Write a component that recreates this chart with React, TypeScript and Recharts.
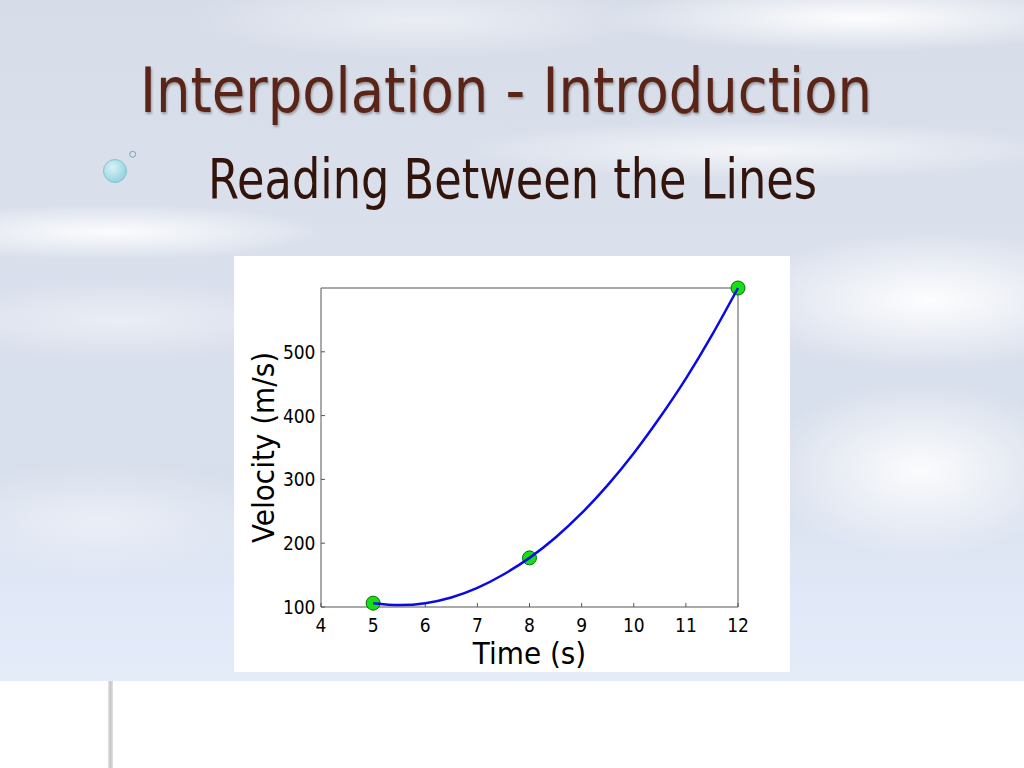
import React from "react";
import {
  ComposedChart,
  Line,
  Scatter,
  XAxis,
  YAxis,
  Label,
} from "recharts";

// readings taken off the slide
const curveTimes = [5, 5.5, 6, 6.5, 7, 7.5, 8, 8.5, 9, 9.5, 10, 10.5, 11, 11.5, 12];
const curveVelocity = [106, 103, 106, 115, 130, 151, 177, 209, 247, 291, 341, 397, 458, 526, 600];

const pointTimes = [5, 8, 12];
const pointVelocity = [106, 177, 600];

const xTicks = [4, 5, 6, 7, 8, 9, 10, 11, 12];
const yTicks = [100, 200, 300, 400, 500];

const curveData = curveTimes.map((t, i) => ({ t, v: curveVelocity[i] }));
const pointData = pointTimes.map((t, i) => ({ t, v: pointVelocity[i] }));

const FONT = "DejaVu Sans";
const AXIS = "#555";

function XTick({ x, y, payload }: any) {
  return (
    <text
      transform={`translate(${x},${y + 25}) scale(0.9,1)`}
      textAnchor="middle"
      fontSize={19}
      fontFamily={FONT}
      fill="#000"
    >
      {payload.value}
    </text>
  );
}

function YTick({ x, y, payload }: any) {
  return (
    <text
      transform={`translate(${x - 5.5},${y + 7}) scale(0.9,1)`}
      textAnchor="end"
      fontSize={19}
      fontFamily={FONT}
      fill="#000"
    >
      {payload.value}
    </text>
  );
}

function TimeLabel({ viewBox }: any) {
  const cx = viewBox.x + viewBox.width / 2;
  return (
    <text
      transform={`translate(${cx},${viewBox.y + 56.5}) scale(0.9,1)`}
      textAnchor="middle"
      fontSize={31}
      fontFamily={FONT}
      fill="#000"
    >
      Time (s)
    </text>
  );
}

function VelocityLabel({ viewBox }: any) {
  const cy = viewBox.y + viewBox.height / 2;
  return (
    <text
      transform={`translate(${viewBox.x + 40},${cy}) rotate(-90) scale(0.9,1)`}
      textAnchor="middle"
      fontSize={31}
      fontFamily={FONT}
      fill="#000"
    >
      Velocity (m/s)
    </text>
  );
}

function Dot({ cx, cy }: any) {
  return <circle cx={cx} cy={cy} r={7} fill="#14e014" stroke="#0a6a0a" strokeWidth={1} />;
}

const sky = [
  "radial-gradient(ellipse 260px 34px at 860px 18px, rgba(255,255,255,0.95), rgba(255,255,255,0))",
  "radial-gradient(ellipse 320px 30px at 760px 150px, rgba(255,255,255,0.7), rgba(255,255,255,0))",
  "radial-gradient(ellipse 200px 70px at 930px 300px, rgba(255,255,255,0.95), rgba(255,255,255,0))",
  "radial-gradient(ellipse 160px 90px at 920px 470px, rgba(255,255,255,0.9), rgba(255,255,255,0))",
  "radial-gradient(ellipse 220px 28px at 110px 232px, rgba(255,255,255,0.9), rgba(255,255,255,0))",
  "radial-gradient(ellipse 240px 40px at 420px 20px, rgba(255,255,255,0.5), rgba(255,255,255,0))",
  "radial-gradient(ellipse 200px 40px at 120px 320px, rgba(255,255,255,0.45), rgba(255,255,255,0))",
  "radial-gradient(ellipse 180px 60px at 100px 520px, rgba(255,255,255,0.4), rgba(255,255,255,0))",
  "linear-gradient(180deg, #d6dce8 0%, #dae0ec 35%, #d8dfec 70%, #e1e8f7 88%, #e4ebf9 100%)",
].join(",");

export default function App() {
  return (
    <div
      style={{
        position: "absolute",
        left: 0,
        top: 0,
        width: 1024,
        height: 768,
        overflow: "hidden",
        background: "#fff",
      }}
    >
      <div style={{ position: "absolute", left: 0, top: 0, width: 1024, height: 681, background: sky }} />
      <div
        style={{
          position: "absolute",
          left: 108,
          top: 681,
          width: 5,
          height: 87,
          background: "linear-gradient(90deg, #e4e4e4, #c6c6c6 50%, #e4e4e4)",
        }}
      />
      <svg width={1024} height={260} style={{ position: "absolute", left: 0, top: 0 }}>
        <defs>
          <radialGradient id="bub" cx="40%" cy="35%" r="70%">
            <stop offset="0%" stopColor="#d8f2f6" />
            <stop offset="100%" stopColor="#8fd0de" />
          </radialGradient>
        </defs>
        <circle cx={115} cy={171} r={11.5} fill="url(#bub)" stroke="#86c3d0" strokeWidth={1} />
        <circle cx={132.7} cy={154.3} r={3} fill="none" stroke="#6fa8b4" strokeWidth={1} />
        <text
          x={140}
          y={111.7}
          fontSize={62}
          fontFamily={FONT}
          fill="#5a2417"
          textLength={732}
          lengthAdjust="spacingAndGlyphs"
          style={{ filter: "drop-shadow(1px 2px 1px rgba(0,0,0,0.3))" }}
        >
          Interpolation - Introduction
        </text>
        <text
          x={208}
          y={198.3}
          fontSize={55}
          fontFamily={FONT}
          fill="#33140b"
          textLength={609}
          lengthAdjust="spacingAndGlyphs"
        >
          Reading Between the Lines
        </text>
      </svg>
      <div style={{ position: "absolute", left: 234, top: 256, width: 556, height: 416, background: "#fff" }}>
        <ComposedChart width={556} height={416} margin={{ top: 0, right: 0, bottom: 0, left: 0 }}>
          <XAxis
            xAxisId="bottom"
            type="number"
            dataKey="t"
            domain={[4, 12]}
            ticks={xTicks}
            height={65}
            tickSize={-4}
            tickMargin={4}
            stroke={AXIS}
            tick={<XTick />}
          >
            <Label content={<TimeLabel />} />
          </XAxis>
          <XAxis
            xAxisId="top"
            orientation="top"
            type="number"
            dataKey="t"
            domain={[4, 12]}
            ticks={xTicks}
            height={32}
            tickSize={-4}
            stroke={AXIS}
            tick={false}
          />
          <YAxis
            yAxisId="left"
            type="number"
            dataKey="v"
            domain={[100, 600]}
            ticks={yTicks}
            width={87}
            tickSize={-4}
            tickMargin={4}
            stroke={AXIS}
            tick={<YTick />}
          >
            <Label content={<VelocityLabel />} />
          </YAxis>
          <YAxis
            yAxisId="right"
            orientation="right"
            type="number"
            dataKey="v"
            domain={[100, 600]}
            ticks={yTicks}
            width={52}
            tickSize={-4}
            stroke={AXIS}
            tick={false}
          />
          <Scatter
            xAxisId="bottom"
            yAxisId="left"
            data={pointData}
            dataKey="v"
            shape={<Dot />}
            isAnimationActive={false}
          />
          <Line
            xAxisId="bottom"
            yAxisId="left"
            data={curveData}
            dataKey="v"
            type="natural"
            stroke="#0a0ae6"
            strokeWidth={2.5}
            dot={false}
            activeDot={false}
            zIndex={700}
            isAnimationActive={false}
          />
        </ComposedChart>
      </div>
    </div>
  );
}
